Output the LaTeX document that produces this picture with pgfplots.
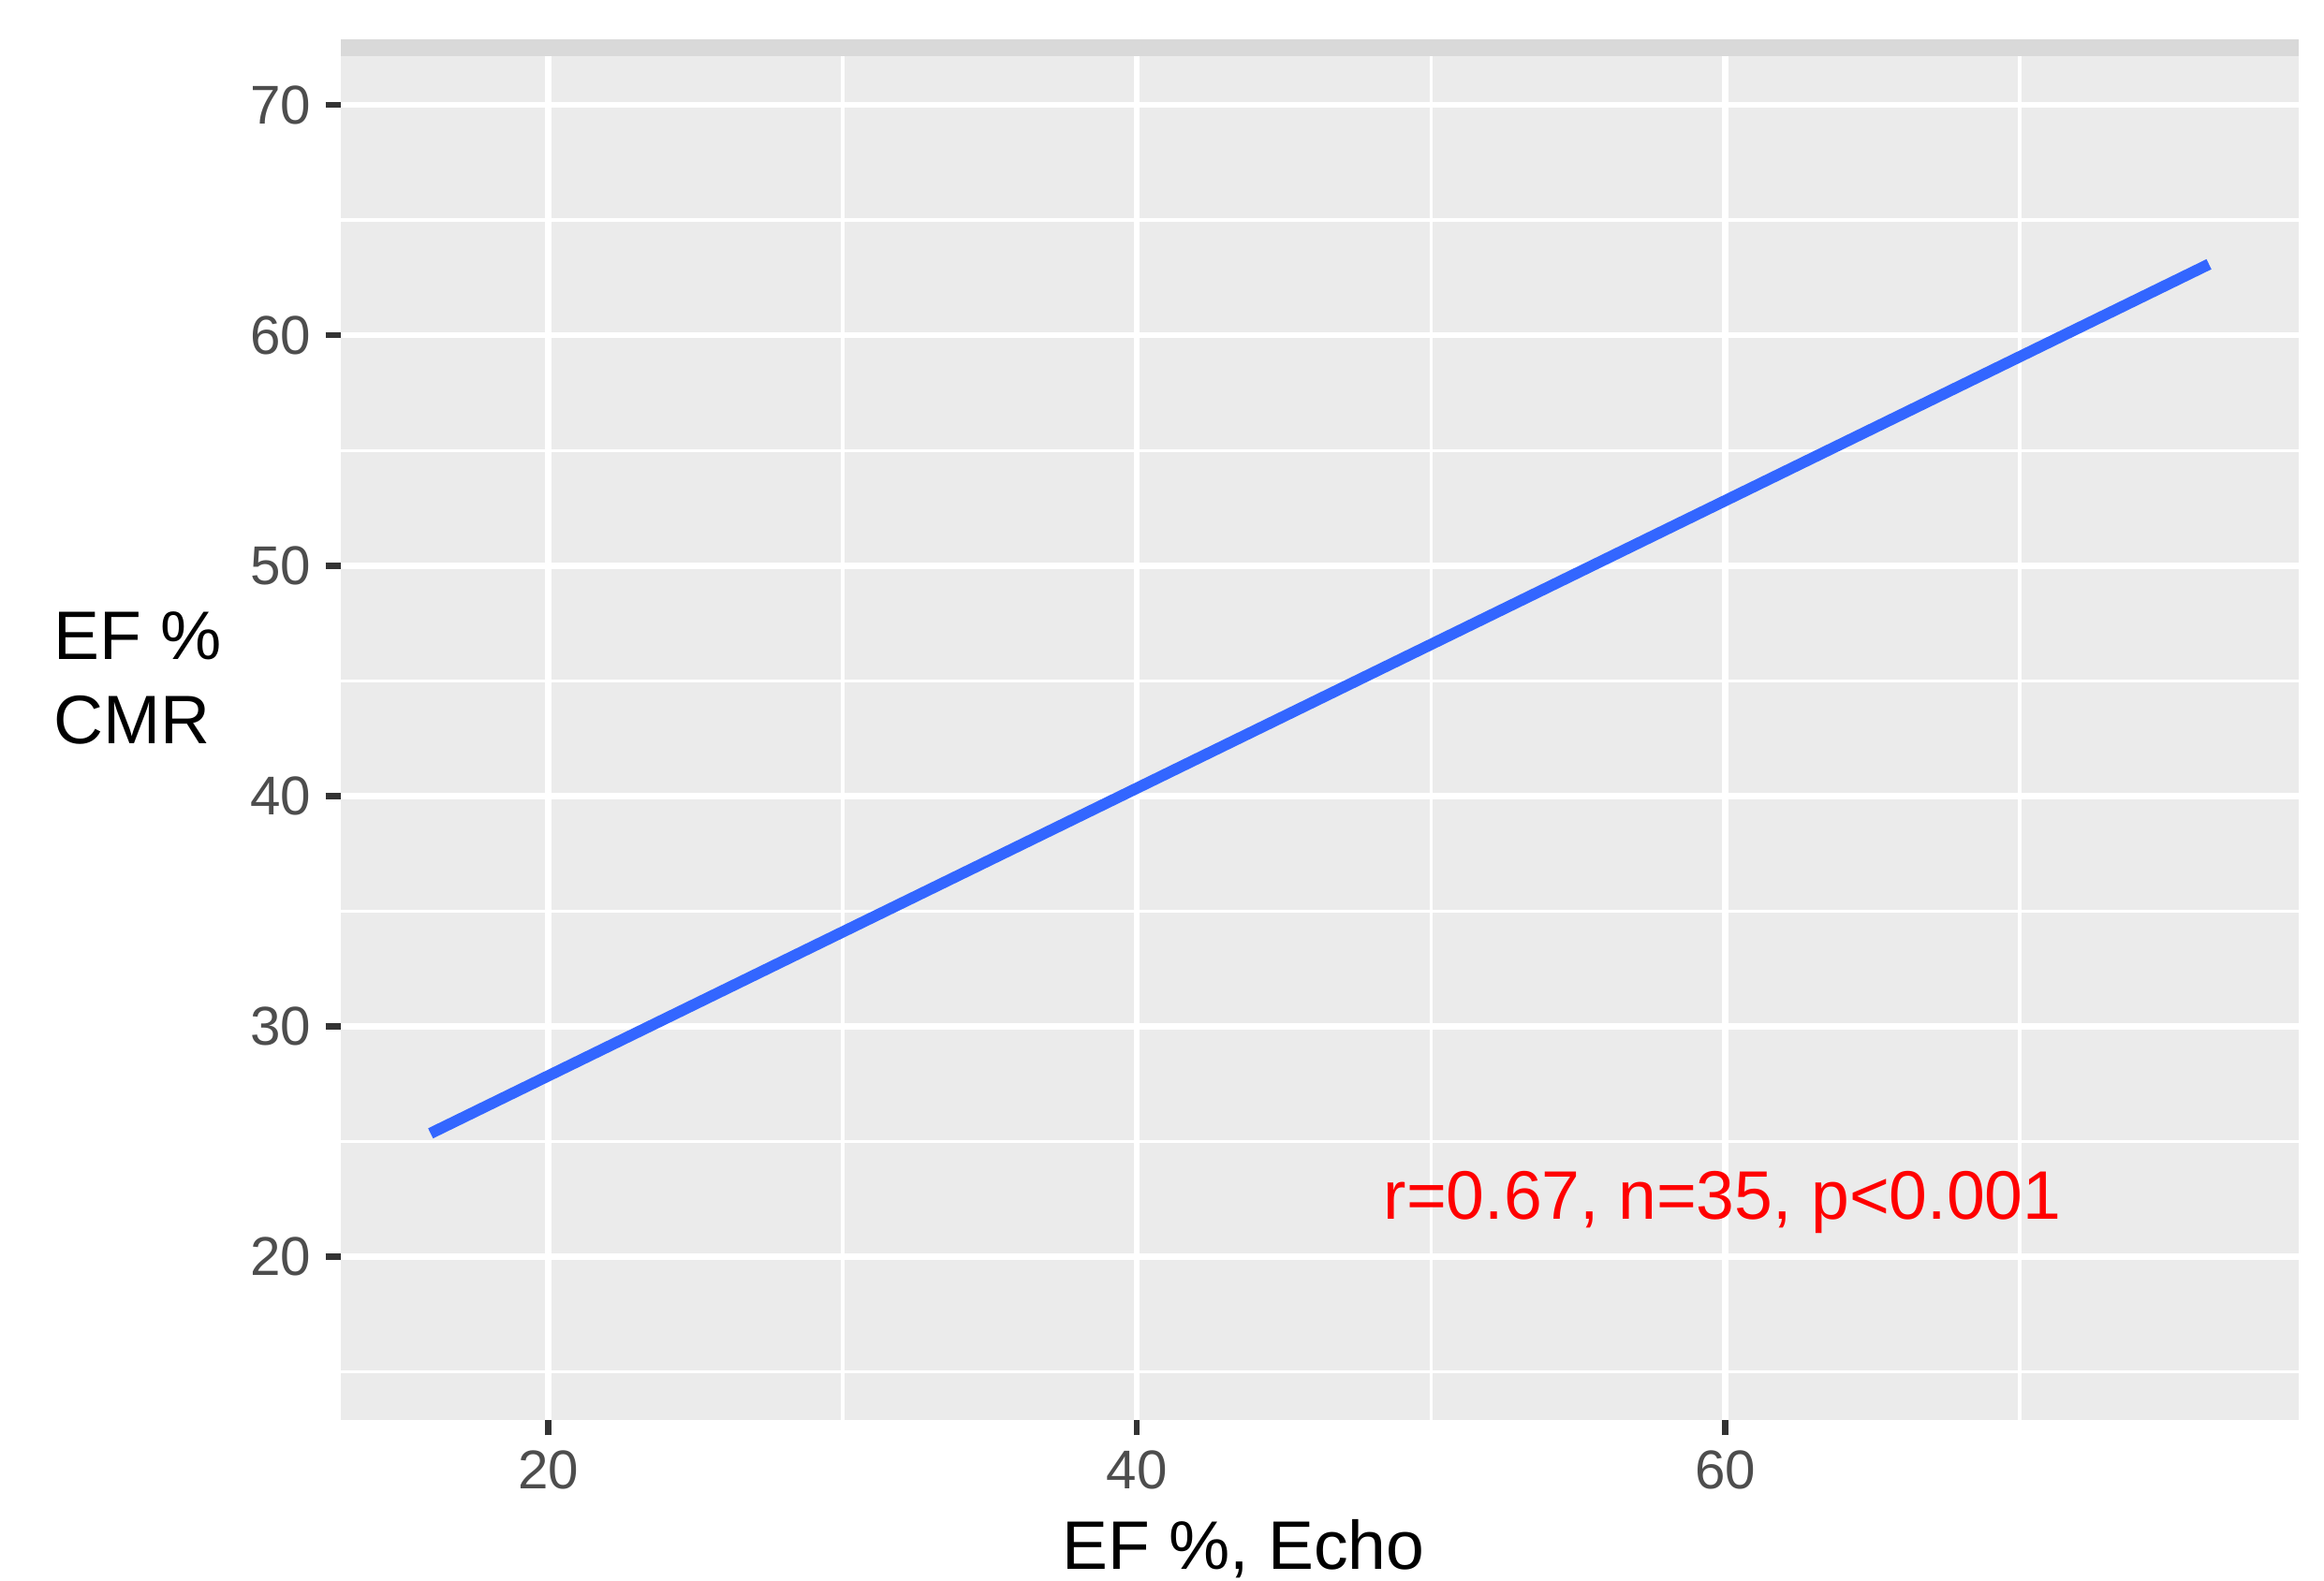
\documentclass[border=0pt]{standalone}
\usepackage{fontspec}
\setmainfont{Liberation Sans}
\usepackage{pgfplots}
\pgfplotsset{compat=1.18}

\definecolor{panelbg}{HTML}{EBEBEB}
\definecolor{stripbg}{HTML}{D9D9D9}
\definecolor{ticklab}{HTML}{4D4D4D}
\definecolor{tickcol}{HTML}{333333}
\definecolor{fitblue}{HTML}{3366FF}

\begin{document}
\begin{tikzpicture}
  % page frame, in px * 0.3pt
  \path[use as bounding box] (-109.2pt,-51.3pt) rectangle (635.4pt,455.1pt);
  \begin{axis}[
    name=ax,
    at={(0,0)}, anchor=south west,
    scale only axis,
    width=627.2pt, height=437.1pt,
    xmin=12.95, xmax=79.47,
    ymin=12.92, ymax=72.11,
    xtick={20,40,60}, minor xtick={30,50,70},
    ytick={20,30,40,50,60,70}, minor ytick={15,25,35,45,55,65},
    grid=both,
    major grid style={white, line width=2pt},
    minor grid style={white, line width=1pt},
    axis background/.style={fill=panelbg},
    axis line style={draw=none},
    tick align=outside,
    xtick pos=bottom, ytick pos=left,
    major tick length=4.9pt, minor tick length=0pt,
    major tick style={draw=tickcol, line width=2pt},
    /pgf/number format/assume math mode=true,
    ticklabel style={font=\fontsize{17.5}{21}\selectfont, text=ticklab, inner sep=0pt},
    xticklabel style={yshift=-4.8pt},
    yticklabel style={xshift=-4.5pt},
    clip=false,
  ]
  \addplot[fitblue, line width=3.6pt] coordinates {(16.0,25.36) (76.43,63.08)};
  \node[anchor=base, text=red, font=\fontsize{22}{26}\selectfont, inner sep=0pt]
    at (axis cs:59.9,21.64) {r=0.67, n=35, p<0.001};
  \end{axis}
  % empty facet strip
  \fill[stripbg] (ax.north west) rectangle ([yshift=5.4pt]ax.north east);
  % axis titles
  \node[anchor=base, font=\fontsize{22}{26}\selectfont, inner sep=0pt]
    at ([xshift=289.2pt, yshift=-47.9pt]ax.south west) {EF \%, Echo};
  \node[anchor=base west, font=\fontsize{22}{26}\selectfont, inner sep=0pt]
    at ([xshift=-92.2pt, yshift=243.8pt]ax.south west) {EF \%};
  \node[anchor=base west, font=\fontsize{22}{26}\selectfont, inner sep=0pt]
    at ([xshift=-92.2pt, yshift=216.6pt]ax.south west) {CMR};
\end{tikzpicture}
\end{document}
